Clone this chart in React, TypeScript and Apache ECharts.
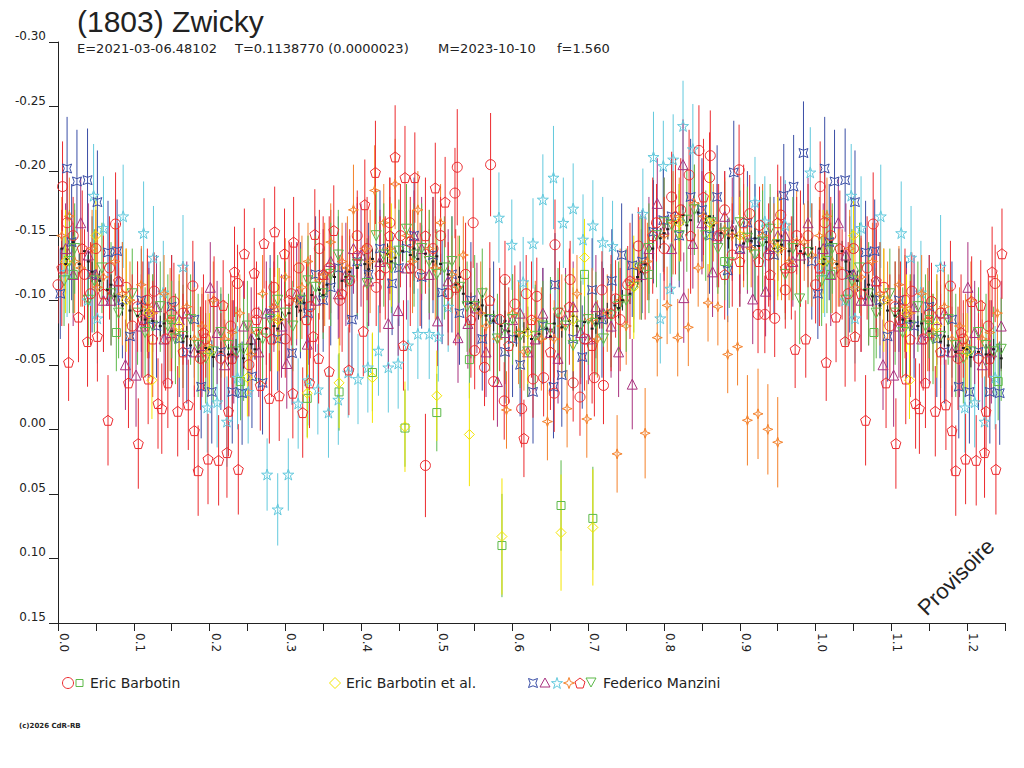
import React, { useEffect, useRef } from "react";
import * as echarts from "echarts";

const TITLE = "(1803) Zwicky";
const SUBTITLE_PARTS = ["E=2021-03-06.48102", "T=0.1138770 (0.0000023)", "M=2023-10-10", "f=1.560"];
const SUBTITLE_X = [77, 235, 438, 557];
const X_MIN = 0, X_MAX = 1.25, X_STEP = 0.05;
const Y_MIN = -0.3, Y_MAX = 0.15, Y_STEP = 0.05;
const WRAP_LIMIT = 0.25; // phases below this are repeated at phase + 1

// [phase, mag]
const blackBand = [
  [0.005,-0.140],[0.012,-0.132],[0.020,-0.145],[0.028,-0.128],[0.035,-0.138],[0.045,-0.122],[0.055,-0.115],[0.065,-0.108],[0.075,-0.103],[0.085,-0.096],
  [0.095,-0.092],[0.105,-0.088],[0.115,-0.085],[0.125,-0.084],[0.135,-0.080],[0.150,-0.076],[0.165,-0.068],[0.175,-0.065],[0.185,-0.060],[0.195,-0.063],
  [0.205,-0.056],[0.215,-0.060],[0.225,-0.058],[0.235,-0.062],[0.245,-0.055],[0.255,-0.066],[0.265,-0.070],[0.275,-0.078],[0.285,-0.080],[0.295,-0.085],
  [0.305,-0.090],[0.315,-0.095],[0.325,-0.098],[0.335,-0.104],[0.345,-0.108],[0.355,-0.112],[0.365,-0.118],[0.375,-0.115],[0.385,-0.122],[0.395,-0.125],
  [0.405,-0.128],[0.415,-0.132],[0.425,-0.130],[0.435,-0.136],[0.445,-0.133],[0.455,-0.138],[0.465,-0.135],[0.475,-0.132],[0.485,-0.136],[0.495,-0.130],
  [0.505,-0.128],[0.515,-0.120],[0.525,-0.112],[0.535,-0.105],[0.545,-0.098],[0.555,-0.093],[0.565,-0.088],[0.575,-0.084],[0.585,-0.080],[0.595,-0.076],
  [0.605,-0.072],[0.615,-0.075],[0.625,-0.070],[0.635,-0.074],[0.645,-0.078],[0.655,-0.082],[0.665,-0.079],[0.675,-0.084],[0.685,-0.080],[0.695,-0.083],
  [0.705,-0.078],[0.715,-0.086],[0.725,-0.090],[0.735,-0.096],[0.745,-0.100],[0.755,-0.105],[0.765,-0.118],[0.775,-0.128],[0.785,-0.140],[0.795,-0.148],
  [0.805,-0.155],[0.815,-0.160],[0.825,-0.166],[0.835,-0.162],[0.845,-0.168],[0.855,-0.160],[0.865,-0.158],[0.875,-0.152],[0.885,-0.148],[0.895,-0.150],
  [0.905,-0.144],[0.915,-0.146],[0.925,-0.142],[0.935,-0.145],[0.945,-0.140],[0.955,-0.143],[0.965,-0.138],[0.975,-0.142],[0.985,-0.136],[0.995,-0.140],
  [0.010,-0.128],[0.040,-0.130],[0.070,-0.112],[0.110,-0.092],[0.140,-0.082],[0.170,-0.072],[0.200,-0.062],[0.230,-0.058],[0.260,-0.062],[0.290,-0.078],
  [0.320,-0.092],[0.350,-0.104],[0.380,-0.118],[0.410,-0.124],[0.440,-0.130],[0.470,-0.140],[0.500,-0.134],[0.530,-0.118],[0.560,-0.096],[0.590,-0.084],
  [0.620,-0.078],[0.650,-0.072],[0.680,-0.088],[0.710,-0.082],[0.740,-0.094],[0.770,-0.122],[0.800,-0.152],[0.830,-0.158],[0.860,-0.165],[0.890,-0.154],
  [0.920,-0.148],[0.950,-0.146],[0.980,-0.138],
];
const BLACK_ERR = 0.008;

// [phase, mag, error]
const barbotinCircles = [
  [0.000,-0.112,0.03],[0.006,-0.188,0.035],[0.020,-0.150,0.03],[0.035,-0.120,0.035],[0.050,-0.140,0.03],[0.076,-0.159,0.04],[0.090,-0.110,0.03],[0.105,-0.095,0.035],
  [0.127,-0.107,0.03],[0.153,-0.099,0.03],[0.178,-0.111,0.035],[0.195,-0.070,0.03],[0.215,-0.055,0.035],[0.237,-0.113,0.03],[0.262,-0.090,0.03],[0.285,-0.110,0.035],
  [0.300,-0.070,0.03],[0.318,-0.125,0.035],[0.345,-0.140,0.03],[0.372,-0.100,0.035],[0.395,-0.150,0.035],[0.420,-0.110,0.03],[0.438,-0.160,0.035],[0.465,-0.145,0.035],
  [0.485,0.028,0.04],[0.505,-0.150,0.03],[0.524,-0.183,0.035],[0.527,-0.203,0.045],[0.548,-0.160,0.035],[0.550,-0.061,0.03],[0.563,-0.048,0.03],[0.571,-0.205,0.04],
  [0.575,-0.037,0.03],[0.589,-0.022,0.03],[0.590,-0.116,0.03],[0.603,-0.097,0.03],[0.612,-0.016,0.03],[0.618,-0.105,0.03],[0.627,-0.039,0.03],[0.632,-0.103,0.03],
  [0.641,-0.040,0.03],[0.655,-0.028,0.03],[0.656,-0.143,0.035],[0.676,-0.116,0.03],[0.680,-0.036,0.03],[0.689,-0.025,0.03],[0.708,-0.040,0.03],[0.718,-0.108,0.03],
  [0.720,-0.034,0.03],[0.736,-0.101,0.03],[0.752,-0.112,0.03],[0.766,-0.142,0.03],[0.790,-0.160,0.03],[0.810,-0.180,0.035],[0.833,-0.197,0.035],[0.846,-0.216,0.035],
  [0.860,-0.195,0.035],[0.861,-0.212,0.035],[0.880,-0.170,0.03],[0.899,-0.201,0.035],[0.913,-0.167,0.03],[0.924,-0.089,0.03],[0.926,-0.158,0.03],[0.933,-0.089,0.03],
  [0.946,-0.086,0.03],[0.954,-0.166,0.03],[0.960,-0.108,0.03],[0.975,-0.150,0.03],
];
const barbotinCirclesBand = [
  [0.012,-0.160,0.04],[0.043,-0.105,0.04],[0.068,-0.125,0.04],[0.098,-0.080,0.04],[0.118,-0.100,0.04],[0.142,-0.070,0.04],[0.165,-0.090,0.04],[0.188,-0.055,0.04],
  [0.228,-0.080,0.04],[0.252,-0.050,0.04],[0.275,-0.075,0.04],[0.308,-0.105,0.04],[0.333,-0.095,0.04],[0.358,-0.125,0.04],[0.385,-0.115,0.04],[0.408,-0.140,0.04],
  [0.432,-0.125,0.04],[0.452,-0.150,0.04],[0.478,-0.120,0.04],[0.495,-0.140,0.04],[0.515,-0.105,0.04],[0.538,-0.120,0.04],[0.583,-0.085,0.04],[0.662,-0.090,0.04],
  [0.695,-0.070,0.04],[0.742,-0.085,0.04],[0.775,-0.125,0.04],[0.800,-0.140,0.04],[0.822,-0.170,0.04],[0.872,-0.150,0.04],[0.890,-0.135,0.04],[0.938,-0.135,0.04],
  [0.968,-0.125,0.04],[0.990,-0.150,0.04],
];
const barbotinSquares = [
  [0.020,-0.120,0.03],[0.077,-0.075,0.03],[0.150,-0.085,0.03],[0.241,-0.037,0.03],[0.329,-0.024,0.03],[0.371,-0.029,0.03],[0.415,-0.044,0.03],[0.458,-0.001,0.03],
  [0.500,-0.013,0.03],[0.543,-0.054,0.03],[0.586,0.090,0.04],[0.664,0.059,0.035],[0.695,-0.120,0.03],[0.706,0.069,0.04],[0.780,-0.120,0.03],[0.880,-0.130,0.03],
];
const barbotinEtAlDiamonds = [
  [0.050,-0.150,0.03],[0.120,-0.090,0.03],[0.124,-0.038,0.03],[0.200,-0.060,0.03],[0.250,-0.040,0.03],[0.329,-0.028,0.035],[0.371,-0.036,0.035],[0.415,-0.040,0.035],
  [0.458,-0.002,0.035],[0.500,-0.026,0.035],[0.543,0.004,0.04],[0.586,0.083,0.045],[0.664,0.080,0.045],[0.695,-0.133,0.03],[0.706,0.076,0.045],[0.820,-0.160,0.03],
  [0.900,-0.150,0.03],[0.010,-0.130,0.04],[0.090,-0.100,0.04],[0.160,-0.080,0.04],[0.290,-0.085,0.04],[0.440,-0.135,0.04],[0.620,-0.075,0.04],[0.680,-0.085,0.04],
  [0.760,-0.110,0.04],[0.860,-0.160,0.04],[0.950,-0.140,0.04],
];
const manziniAstroids = [
  [0.003,-0.105,0.035],[0.012,-0.202,0.04],[0.025,-0.192,0.04],[0.039,-0.193,0.04],[0.052,-0.176,0.04],[0.066,-0.137,0.04],[0.078,-0.138,0.04],[0.095,-0.072,0.035],
  [0.110,-0.100,0.04],[0.130,-0.080,0.04],[0.150,-0.095,0.04],[0.170,-0.060,0.04],[0.189,-0.033,0.04],[0.203,-0.029,0.04],[0.230,-0.029,0.04],[0.243,-0.028,0.04],
  [0.256,-0.041,0.04],[0.270,-0.036,0.04],[0.290,-0.070,0.04],[0.309,-0.059,0.04],[0.330,-0.090,0.04],[0.350,-0.100,0.04],[0.370,-0.125,0.04],[0.388,-0.085,0.04],
  [0.410,-0.120,0.04],[0.441,-0.113,0.04],[0.460,-0.140,0.04],[0.480,-0.118,0.04],[0.507,-0.106,0.04],[0.530,-0.090,0.04],[0.560,-0.070,0.04],[0.590,-0.060,0.04],
  [0.610,-0.050,0.04],[0.627,-0.029,0.04],[0.654,-0.033,0.04],[0.656,-0.112,0.04],[0.665,-0.042,0.04],[0.680,-0.070,0.04],[0.692,-0.056,0.04],[0.705,-0.108,0.04],
  [0.731,-0.115,0.04],[0.744,-0.135,0.04],[0.758,-0.127,0.04],[0.771,-0.130,0.04],[0.786,-0.153,0.04],[0.799,-0.162,0.04],[0.820,-0.150,0.04],[0.850,-0.170,0.04],
  [0.870,-0.180,0.04],[0.884,-0.123,0.04],[0.892,-0.199,0.04],[0.910,-0.160,0.04],[0.930,-0.150,0.04],[0.958,-0.181,0.04],[0.971,-0.188,0.04],[0.984,-0.214,0.04],
  [0.018,-0.145,0.045],[0.045,-0.120,0.045],[0.085,-0.100,0.045],[0.120,-0.085,0.045],[0.160,-0.070,0.045],[0.180,-0.085,0.045],[0.215,-0.060,0.045],[0.280,-0.090,0.045],
  [0.320,-0.100,0.045],[0.340,-0.120,0.045],[0.360,-0.110,0.045],[0.395,-0.130,0.045],[0.425,-0.140,0.045],[0.450,-0.125,0.045],[0.470,-0.150,0.045],[0.495,-0.135,0.045],
  [0.520,-0.120,0.045],[0.545,-0.100,0.045],[0.575,-0.085,0.045],[0.600,-0.070,0.045],[0.640,-0.080,0.045],[0.718,-0.085,0.045],[0.810,-0.165,0.045],[0.835,-0.180,0.045],
  [0.860,-0.150,0.045],[0.900,-0.140,0.045],[0.920,-0.145,0.045],[0.945,-0.135,0.045],[0.995,-0.130,0.045],
];
const manziniTriangles = [
  [0.010,-0.140,0.035],[0.030,-0.160,0.035],[0.050,-0.120,0.035],[0.070,-0.100,0.035],[0.089,-0.050,0.035],[0.103,-0.042,0.04],[0.120,-0.090,0.035],[0.140,-0.070,0.035],
  [0.160,-0.085,0.035],[0.180,-0.060,0.035],[0.201,-0.110,0.035],[0.220,-0.050,0.035],[0.245,-0.080,0.035],[0.265,-0.060,0.035],[0.285,-0.095,0.035],[0.302,-0.051,0.035],
  [0.329,-0.066,0.035],[0.350,-0.120,0.035],[0.370,-0.105,0.035],[0.390,-0.140,0.035],[0.410,-0.115,0.035],[0.436,-0.082,0.035],[0.449,-0.092,0.035],[0.470,-0.150,0.035],
  [0.490,-0.120,0.035],[0.501,-0.084,0.035],[0.528,-0.071,0.035],[0.541,-0.082,0.035],[0.553,-0.094,0.035],[0.565,-0.060,0.035],[0.580,-0.037,0.035],[0.600,-0.085,0.035],
  [0.620,-0.060,0.035],[0.640,-0.090,0.035],[0.660,-0.055,0.035],[0.680,-0.095,0.035],[0.700,-0.070,0.035],[0.720,-0.090,0.035],[0.740,-0.060,0.035],[0.758,-0.035,0.035],
  [0.770,-0.120,0.035],[0.791,-0.175,0.035],[0.810,-0.140,0.035],[0.825,-0.205,0.035],[0.826,-0.102,0.035],[0.838,-0.144,0.035],[0.864,-0.122,0.035],[0.880,-0.165,0.035],
  [0.900,-0.140,0.035],[0.917,-0.101,0.035],[0.934,-0.107,0.035],[0.950,-0.150,0.035],[0.970,-0.130,0.035],[0.990,-0.160,0.035],
  [0.020,-0.120,0.04],[0.040,-0.135,0.04],[0.060,-0.100,0.04],[0.080,-0.115,0.04],[0.110,-0.080,0.04],[0.130,-0.095,0.04],[0.150,-0.075,0.04],[0.170,-0.090,0.04],
  [0.190,-0.065,0.04],[0.210,-0.075,0.04],[0.232,-0.060,0.04],[0.255,-0.070,0.04],[0.275,-0.090,0.04],[0.295,-0.080,0.04],[0.315,-0.105,0.04],[0.340,-0.100,0.04],
  [0.360,-0.130,0.04],[0.380,-0.120,0.04],[0.400,-0.135,0.04],[0.425,-0.130,0.04],[0.460,-0.125,0.04],[0.480,-0.140,0.04],[0.515,-0.115,0.04],[0.590,-0.075,0.04],
  [0.610,-0.090,0.04],[0.630,-0.070,0.04],[0.650,-0.075,0.04],[0.670,-0.085,0.04],[0.690,-0.075,0.04],[0.710,-0.095,0.04],[0.730,-0.080,0.04],[0.780,-0.140,0.04],
  [0.800,-0.155,0.04],[0.850,-0.160,0.04],[0.870,-0.150,0.04],[0.890,-0.155,0.04],[0.910,-0.145,0.04],[0.940,-0.140,0.04],[0.960,-0.150,0.04],[0.980,-0.135,0.04],
];
const manziniStars = [
  [0.012,-0.122,0.035],[0.039,-0.100,0.035],[0.047,-0.181,0.04],[0.052,-0.086,0.035],[0.060,-0.156,0.04],[0.086,-0.165,0.04],[0.113,-0.152,0.04],[0.126,-0.133,0.04],
  [0.139,-0.106,0.04],[0.165,-0.126,0.04],[0.197,-0.017,0.035],[0.210,-0.021,0.035],[0.223,-0.006,0.035],[0.237,-0.040,0.04],[0.251,-0.029,0.04],[0.276,0.035,0.028],
  [0.290,0.062,0.028],[0.304,0.035,0.028],[0.317,-0.020,0.035],[0.330,-0.038,0.035],[0.343,-0.031,0.035],[0.357,-0.013,0.035],[0.370,-0.023,0.035],[0.383,-0.044,0.035],
  [0.396,-0.039,0.035],[0.409,-0.048,0.035],[0.423,-0.061,0.035],[0.436,-0.048,0.035],[0.449,-0.051,0.035],[0.462,-0.065,0.035],[0.475,-0.074,0.035],[0.490,-0.074,0.035],
  [0.502,-0.072,0.035],[0.515,-0.095,0.035],[0.582,-0.164,0.035],[0.599,-0.143,0.035],[0.614,-0.114,0.035],[0.627,-0.144,0.035],[0.640,-0.178,0.035],[0.654,-0.195,0.04],
  [0.667,-0.160,0.035],[0.680,-0.171,0.035],[0.693,-0.147,0.035],[0.706,-0.158,0.035],[0.719,-0.145,0.035],[0.732,-0.142,0.035],[0.772,-0.167,0.035],[0.786,-0.211,0.035],
  [0.795,-0.086,0.035],[0.799,-0.204,0.035],[0.808,-0.109,0.035],[0.812,-0.209,0.035],[0.825,-0.235,0.035],[0.838,-0.217,0.035],[0.920,-0.176,0.035],[0.933,-0.161,0.035],
  [0.960,-0.158,0.035],[0.993,-0.199,0.035],
];
const manziniCrossStars = [
  [0.005,-0.150,0.03],[0.015,-0.165,0.03],[0.030,-0.125,0.03],[0.045,-0.140,0.03],[0.060,-0.118,0.03],[0.075,-0.130,0.03],[0.095,-0.100,0.03],[0.110,-0.112,0.03],
  [0.125,-0.090,0.03],[0.140,-0.105,0.03],[0.155,-0.075,0.03],[0.170,-0.095,0.03],[0.190,-0.080,0.03],[0.205,-0.100,0.03],[0.220,-0.070,0.03],[0.240,-0.090,0.03],
  [0.255,-0.058,0.03],[0.270,-0.105,0.03],[0.285,-0.095,0.03],[0.300,-0.118,0.03],[0.315,-0.100,0.03],[0.330,-0.130,0.03],[0.345,-0.115,0.03],[0.360,-0.145,0.03],
  [0.375,-0.130,0.03],[0.390,-0.170,0.035],[0.405,-0.140,0.03],[0.418,-0.185,0.035],[0.430,-0.160,0.03],[0.445,-0.190,0.035],[0.460,-0.150,0.03],[0.475,-0.170,0.03],
  [0.490,-0.140,0.03],[0.505,-0.160,0.03],[0.520,-0.120,0.03],[0.535,-0.135,0.03],[0.550,-0.095,0.03],[0.565,-0.080,0.03],[0.580,-0.070,0.03],[0.592,-0.015,0.03],
  [0.600,-0.090,0.03],[0.615,-0.060,0.03],[0.630,-0.085,0.03],[0.646,-0.006,0.03],[0.655,-0.070,0.03],[0.672,-0.016,0.03],[0.685,-0.105,0.03],[0.698,-0.008,0.03],
  [0.712,-0.070,0.03],[0.725,-0.090,0.03],[0.738,0.019,0.03],[0.750,-0.080,0.03],[0.760,-0.115,0.03],[0.775,0.003,0.035],[0.778,-0.130,0.03],[0.791,-0.071,0.03],
  [0.800,-0.150,0.03],[0.804,-0.096,0.03],[0.818,-0.071,0.03],[0.820,-0.165,0.03],[0.832,-0.079,0.03],[0.840,-0.175,0.03],[0.845,-0.125,0.03],[0.858,-0.098,0.03],
  [0.865,-0.160,0.03],[0.871,-0.095,0.03],[0.884,-0.058,0.03],[0.890,-0.150,0.03],[0.897,-0.064,0.03],[0.910,-0.007,0.035],[0.915,-0.140,0.03],[0.924,-0.012,0.035],
  [0.937,0.000,0.035],[0.945,-0.145,0.03],[0.950,0.010,0.035],[0.965,-0.130,0.03],[0.985,-0.145,0.03],
  [0.022,-0.130,0.04],[0.052,-0.110,0.04],[0.085,-0.105,0.04],[0.118,-0.095,0.04],[0.148,-0.085,0.04],[0.180,-0.070,0.04],[0.198,-0.065,0.04],[0.230,-0.075,0.04],
  [0.262,-0.075,0.04],[0.292,-0.085,0.04],[0.322,-0.110,0.04],[0.352,-0.120,0.04],[0.382,-0.125,0.04],[0.412,-0.130,0.04],[0.438,-0.140,0.04],[0.468,-0.130,0.04],
  [0.498,-0.125,0.04],[0.528,-0.110,0.04],[0.558,-0.090,0.04],[0.608,-0.075,0.04],[0.638,-0.070,0.04],[0.665,-0.080,0.04],[0.705,-0.085,0.04],[0.742,-0.100,0.04],
  [0.768,-0.125,0.04],[0.812,-0.160,0.04],[0.852,-0.165,0.04],[0.880,-0.155,0.04],[0.905,-0.150,0.04],[0.930,-0.150,0.04],[0.955,-0.140,0.04],[0.975,-0.145,0.04],
  [0.995,-0.135,0.04],
];
const manziniPentagons = [
  [0.014,-0.052,0.03],[0.027,-0.087,0.035],[0.039,-0.068,0.035],[0.052,-0.072,0.035],[0.066,-0.007,0.035],[0.093,-0.036,0.035],[0.106,0.011,0.035],[0.119,-0.039,0.035],
  [0.132,-0.020,0.035],[0.137,-0.016,0.035],[0.145,-0.036,0.035],[0.158,-0.014,0.035],[0.172,-0.019,0.035],[0.180,0.001,0.035],[0.185,0.032,0.035],[0.198,0.023,0.035],
  [0.206,-0.099,0.035],[0.212,0.024,0.035],[0.218,-0.096,0.035],[0.223,0.018,0.035],[0.225,-0.014,0.035],[0.233,-0.122,0.035],[0.238,0.031,0.035],[0.246,-0.136,0.035],
  [0.259,-0.121,0.035],[0.267,-0.034,0.035],[0.272,-0.144,0.035],[0.279,-0.024,0.035],[0.286,-0.153,0.035],[0.292,-0.026,0.035],[0.299,-0.136,0.035],[0.310,-0.028,0.035],
  [0.311,-0.145,0.035],[0.323,-0.013,0.035],[0.332,-0.036,0.035],[0.337,-0.072,0.035],[0.339,-0.151,0.035],[0.344,-0.055,0.035],[0.358,-0.045,0.035],[0.364,-0.154,0.035],
  [0.384,-0.046,0.035],[0.403,-0.076,0.035],[0.405,-0.174,0.035],[0.419,-0.199,0.04],[0.445,-0.211,0.04],[0.456,-0.065,0.035],[0.458,-0.195,0.04],[0.471,-0.195,0.035],
  [0.498,-0.187,0.035],[0.511,-0.176,0.035],[0.615,0.007,0.03],[0.880,-0.120,0.035],[0.900,-0.130,0.035],[0.940,-0.120,0.035],[0.960,-0.125,0.035],[0.973,-0.062,0.03],
  [0.987,-0.070,0.03],
  [0.005,-0.125,0.045],[0.032,-0.140,0.045],[0.060,-0.105,0.045],[0.080,-0.115,0.045],[0.112,-0.085,0.045],[0.125,-0.070,0.045],[0.150,-0.090,0.045],[0.165,-0.060,0.045],
  [0.192,-0.075,0.045],[0.230,-0.055,0.045],[0.262,-0.085,0.045],[0.282,-0.070,0.045],[0.305,-0.100,0.045],[0.328,-0.085,0.045],[0.350,-0.120,0.045],[0.375,-0.105,0.045],
  [0.395,-0.135,0.045],[0.425,-0.120,0.045],[0.438,-0.150,0.045],[0.465,-0.125,0.045],[0.485,-0.150,0.045],[0.525,-0.110,0.045],[0.545,-0.085,0.045],[0.570,-0.100,0.045],
  [0.595,-0.065,0.045],[0.625,-0.085,0.045],[0.650,-0.060,0.045],[0.675,-0.095,0.045],[0.705,-0.065,0.045],[0.730,-0.090,0.045],[0.755,-0.115,0.045],[0.785,-0.150,0.045],
  [0.815,-0.165,0.045],[0.835,-0.150,0.045],[0.852,-0.180,0.045],[0.905,-0.160,0.045],[0.925,-0.130,0.045],[0.950,-0.160,0.045],[0.980,-0.140,0.045],
];
const manziniDownTriangles = [
  [0.008,-0.115,0.035],[0.022,-0.140,0.035],[0.040,-0.100,0.035],[0.058,-0.125,0.035],[0.080,-0.090,0.035],[0.098,-0.105,0.035],[0.115,-0.075,0.035],[0.135,-0.095,0.035],
  [0.155,-0.070,0.035],[0.175,-0.085,0.035],[0.195,-0.055,0.035],[0.215,-0.075,0.035],[0.235,-0.060,0.035],[0.250,-0.080,0.035],[0.270,-0.070,0.035],[0.290,-0.100,0.035],
  [0.310,-0.080,0.035],[0.330,-0.115,0.035],[0.350,-0.105,0.035],[0.370,-0.135,0.035],[0.385,-0.115,0.035],[0.408,-0.113,0.035],[0.420,-0.150,0.035],[0.440,-0.125,0.035],
  [0.460,-0.155,0.035],[0.480,-0.140,0.035],[0.500,-0.120,0.035],[0.520,-0.130,0.035],[0.540,-0.095,0.035],[0.560,-0.105,0.035],[0.580,-0.070,0.035],[0.600,-0.085,0.035],
  [0.620,-0.060,0.035],[0.640,-0.080,0.035],[0.660,-0.090,0.035],[0.680,-0.065,0.035],[0.700,-0.085,0.035],[0.720,-0.070,0.035],[0.740,-0.095,0.035],[0.760,-0.110,0.035],
  [0.780,-0.140,0.035],[0.800,-0.160,0.035],[0.820,-0.150,0.035],[0.840,-0.170,0.035],[0.855,-0.150,0.035],[0.871,-0.140,0.035],[0.886,-0.129,0.035],[0.900,-0.160,0.035],
  [0.920,-0.135,0.035],[0.940,-0.155,0.035],[0.960,-0.120,0.035],[0.979,-0.101,0.035],
  [0.015,-0.130,0.04],[0.048,-0.115,0.04],[0.070,-0.105,0.04],[0.105,-0.090,0.04],[0.125,-0.080,0.04],[0.145,-0.080,0.04],[0.165,-0.072,0.04],[0.185,-0.065,0.04],
  [0.205,-0.060,0.04],[0.225,-0.065,0.04],[0.245,-0.062,0.04],[0.262,-0.075,0.04],[0.280,-0.085,0.04],[0.300,-0.090,0.04],[0.320,-0.100,0.04],[0.340,-0.110,0.04],
  [0.360,-0.120,0.04],[0.395,-0.128,0.04],[0.430,-0.135,0.04],[0.450,-0.138,0.04],[0.470,-0.135,0.04],[0.490,-0.130,0.04],[0.510,-0.125,0.04],[0.530,-0.110,0.04],
  [0.550,-0.095,0.04],[0.570,-0.085,0.04],[0.590,-0.078,0.04],[0.610,-0.072,0.04],[0.630,-0.072,0.04],[0.650,-0.078,0.04],[0.670,-0.080,0.04],[0.690,-0.080,0.04],
  [0.710,-0.082,0.04],[0.730,-0.088,0.04],[0.750,-0.100,0.04],[0.770,-0.125,0.04],[0.790,-0.150,0.04],[0.810,-0.158,0.04],[0.830,-0.162,0.04],[0.862,-0.160,0.04],
  [0.880,-0.152,0.04],[0.910,-0.148,0.04],[0.930,-0.145,0.04],[0.950,-0.143,0.04],[0.970,-0.140,0.04],[0.990,-0.137,0.04],
];

const RED = "#ec2a2e";
const GREEN = "#5cb949";
const YELLOW = "#f4e500";
const BLUE = "#3a4ea6";
const PURPLE = "#a8317f";
const CYAN = "#62c9dd";
const ORANGE = "#f4812a";
const BLACK = "#1e1e1e";
const TEXT = "#222222";

// unit shapes on a 0..10 box
const SHAPES: Record<string, number[][]> = {
  astroid: [[0,0],[5,1.9],[10,0],[8.1,5],[10,10],[5,8.1],[0,10],[1.9,5]],
  star: [[5,0],[6.2,3.8],[10,3.8],[6.9,6.1],[8.1,10],[5,7.6],[1.9,10],[3.1,6.1],[0,3.8],[3.8,3.8]],
  star4: [[5,0],[6.3,3.7],[10,5],[6.3,6.3],[5,10],[3.7,6.3],[0,5],[3.7,3.7]],
  pentagon: [[5,0],[10,3.8],[8.1,10],[1.9,10],[0,3.8]],
  downTri: [[0,0],[10,0],[5,9]],
  triangle: [[5,0],[10,9],[0,9]],
  diamond: [[5,0],[10,5],[5,10],[0,5]],
};
const toPath = (pts: number[][]) => "path://M" + pts.map((p) => p[0] + "," + p[1]).join("L") + "Z";

const wrap = (arr: number[][]) =>
  arr.concat(arr.filter((d) => d[0] < WRAP_LIMIT).map((d) => [d[0] + 1, d[1], d[2]]));

type Group = { name: string; data: number[][]; color: string; symbol: string; size: number | number[]; filled?: boolean };

const GROUPS: Group[] = [
  { name: "Federico Manzini (stars)", data: manziniStars, color: CYAN, symbol: toPath(SHAPES.star), size: 11 },
  { name: "Federico Manzini (astroids)", data: manziniAstroids, color: BLUE, symbol: toPath(SHAPES.astroid), size: 9 },
  { name: "Federico Manzini (triangles)", data: manziniTriangles, color: PURPLE, symbol: toPath(SHAPES.triangle), size: 10 },
  { name: "Federico Manzini (cross stars)", data: manziniCrossStars, color: ORANGE, symbol: toPath(SHAPES.star4), size: 10 },
  { name: "Federico Manzini (down triangles)", data: manziniDownTriangles, color: GREEN, symbol: toPath(SHAPES.downTri), size: 10 },
  { name: "Band", data: blackBand.map((d) => [d[0], d[1], BLACK_ERR]), color: BLACK, symbol: "rect", size: [3, 2], filled: true },
  { name: "Federico Manzini (pentagons)", data: manziniPentagons, color: RED, symbol: toPath(SHAPES.pentagon), size: 10 },
  { name: "Eric Barbotin (circles)", data: barbotinCircles.concat(barbotinCirclesBand), color: RED, symbol: "circle", size: 10 },
  { name: "Eric Barbotin (squares)", data: barbotinSquares, color: GREEN, symbol: "rect", size: 8 },
  { name: "Eric Barbotin et al.", data: barbotinEtAlDiamonds, color: YELLOW, symbol: toPath(SHAPES.diamond), size: 10 },
];

function polyAt(shape: number[][], cx: number, cy: number, size: number) {
  const s = size / 10;
  return shape.map((p) => [cx + (p[0] - 5) * s, cy + (p[1] - 5) * s]);
}

export default function App() {
  const ref = useRef<HTMLDivElement>(null);
  useEffect(() => {
    if (!ref.current) return;
    const chart = echarts.init(ref.current, undefined, { renderer: "svg" });
    const series: any[] = [];
    GROUPS.forEach((g) => {
      const data = wrap(g.data);
      series.push({
        type: "custom",
        name: g.name + " errors",
        silent: true,
        clip: true,
        encode: { x: 0, y: 1 },
        data,
        renderItem: (_p: any, api: any) => {
          const x = api.value(0), m = api.value(1), e = api.value(2);
          const a = api.coord([x, m - e]);
          const b = api.coord([x, m + e]);
          return {
            type: "line",
            shape: { x1: a[0], y1: a[1], x2: b[0], y2: b[1] },
            style: { stroke: g.color, lineWidth: 1 },
          };
        },
      });
      series.push({
        type: "scatter",
        name: g.name,
        silent: true,
        data: data.map((d) => [d[0], d[1]]),
        symbol: g.symbol,
        symbolSize: g.size,
        itemStyle: g.filled
          ? { color: g.color, borderWidth: 0, opacity: 1 }
          : { color: "rgba(0,0,0,0)", borderColor: g.color, borderWidth: 1, opacity: 1 },
      });
    });

    const legendFont = { fontSize: 14, fontFamily: "DejaVu Sans", fill: TEXT, verticalAlign: "middle", align: "left" };
    const ly = 683;
    const poly = (shape: number[][], cx: number, size: number, color: string) => ({
      type: "polygon",
      shape: { points: polyAt(shape, cx, ly, size) },
      style: { fill: "none", stroke: color, lineWidth: 1 },
    });

    const graphic: any[] = [
      { type: "text", x: 77, y: 21, style: { text: TITLE, fontSize: 30, fontFamily: "Liberation Sans", fill: TEXT, verticalAlign: "middle" } },
      ...SUBTITLE_PARTS.map((t, i) => ({
        type: "text", x: SUBTITLE_X[i], y: 48,
        style: { text: t, fontSize: 13, fontFamily: "DejaVu Sans", fill: TEXT, verticalAlign: "middle" },
      })),
      { type: "circle", shape: { cx: 68, cy: ly, r: 5.5 }, style: { fill: "none", stroke: RED, lineWidth: 1 } },
      { type: "rect", shape: { x: 76, y: ly - 3.5, width: 7, height: 7 }, style: { fill: "none", stroke: GREEN, lineWidth: 1 } },
      { type: "text", x: 90, y: ly, style: { text: "Eric Barbotin", ...legendFont } },
      poly(SHAPES.diamond, 335, 11, YELLOW),
      { type: "text", x: 346, y: ly, style: { text: "Eric Barbotin et al.", ...legendFont } },
      poly(SHAPES.astroid, 533, 9, BLUE),
      poly(SHAPES.triangle, 545, 10, PURPLE),
      poly(SHAPES.star, 557, 11, CYAN),
      poly(SHAPES.star4, 569, 11, ORANGE),
      poly(SHAPES.pentagon, 580, 10, RED),
      poly(SHAPES.downTri, 591, 10, GREEN),
      { type: "text", x: 603, y: ly, style: { text: "Federico Manzini", ...legendFont } },
      { type: "text", x: 19, y: 726, style: { text: "(c)2026 CdR-RB", fontSize: 7, fontWeight: "bold", fontFamily: "DejaVu Sans", fill: TEXT, verticalAlign: "middle" } },
      {
        type: "text", x: 956, y: 577, rotation: Math.PI / 4,
        style: { text: "Provisoire", fontSize: 22, fontFamily: "Liberation Sans", fill: TEXT, align: "center", verticalAlign: "middle" },
      },
    ];

    chart.setOption({
      animation: false,
      backgroundColor: "#ffffff",
      grid: { left: 58, right: 19, top: 42, bottom: 145, containLabel: false },
      xAxis: {
        type: "value",
        min: X_MIN,
        max: X_MAX,
        interval: X_STEP,
        axisLine: { onZero: false, lineStyle: { color: TEXT, width: 1 } },
        axisTick: { show: true, length: 8, lineStyle: { color: TEXT } },
        splitLine: { show: false },
        axisLabel: {
          rotate: -90,
          margin: 10,
          verticalAlign: "bottom",
          fontSize: 12,
          fontFamily: "DejaVu Sans",
          color: TEXT,
          formatter: (v: number) => (Math.round(v * 100) % 10 === 0 ? v.toFixed(1) : ""),
        },
      },
      yAxis: {
        type: "value",
        inverse: true,
        min: Y_MIN,
        max: Y_MAX,
        interval: Y_STEP,
        axisLine: { show: true, onZero: false, lineStyle: { color: TEXT, width: 1 } },
        axisTick: { show: true, length: 9, lineStyle: { color: TEXT } },
        splitLine: { show: false },
        axisLabel: {
          margin: 12,
          verticalAlign: "bottom",
          fontSize: 12,
          fontFamily: "DejaVu Sans",
          color: TEXT,
          formatter: (v: number) => (Math.abs(v) < 1e-9 ? 0 : v).toFixed(2),
        },
      },
      graphic,
      series,
    });
    return () => chart.dispose();
  }, []);
  return <div ref={ref} style={{ position: "fixed", left: 0, top: 0, width: 1024, height: 768, background: "#fff" }} />;
}
